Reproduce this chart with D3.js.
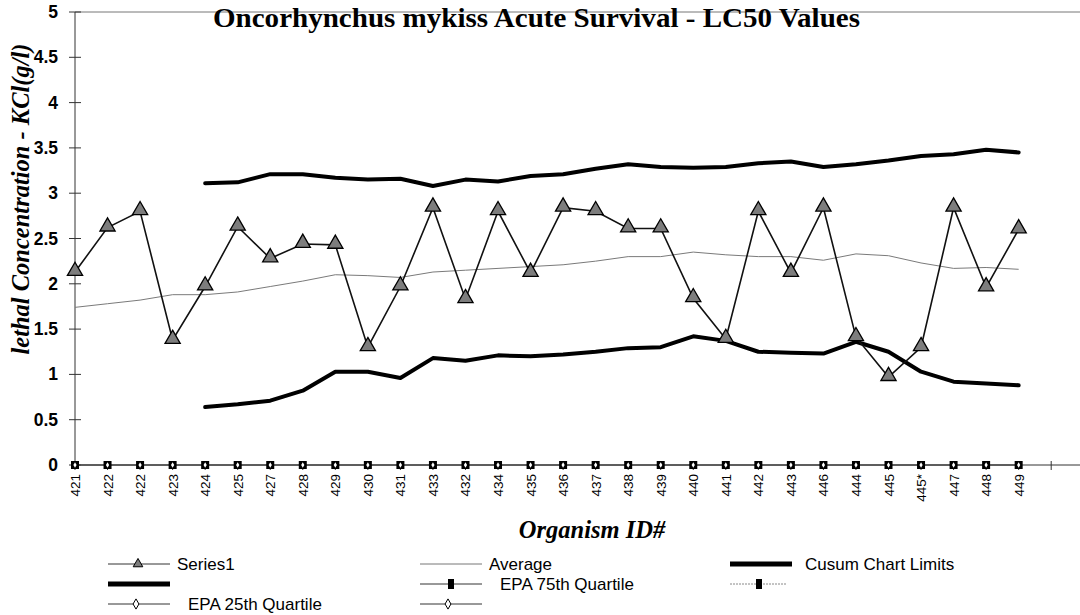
<!DOCTYPE html>
<html>
<head>
<meta charset="utf-8">
<script src="https://cdn.jsdelivr.net/npm/d3@7/dist/d3.min.js"></script>
<style>
  html, body { margin: 0; padding: 0; background: #fff; }
  svg { display: block; }
</style>
</head>
<body>
<div id="chart"></div>
<script>
// organism IDs along the x axis (order as printed)
const ids = ['421','422','422','423','424','425','427','428','429','430','431','433','432','434','435',
  '436','437','438','439','440','441','442','443','446','444','445','445*','447','448','449'];

// LC50 values (Series1)
const series1 = [2.13, 2.62, 2.80, 1.38, 1.97, 2.63, 2.28, 2.44, 2.43, 1.30, 1.97, 2.84, 1.83, 2.80, 2.12,
  2.84, 2.80, 2.61, 2.61, 1.84, 1.39, 2.80, 2.12, 2.84, 1.41, 0.97, 1.30, 2.84, 1.96, 2.60];

// running average
const average = [1.74, 1.78, 1.82, 1.88, 1.88, 1.91, 1.97, 2.03, 2.10, 2.09, 2.07, 2.13, 2.15, 2.17, 2.19,
  2.21, 2.25, 2.30, 2.30, 2.35, 2.32, 2.30, 2.30, 2.26, 2.33, 2.31, 2.23, 2.17, 2.18, 2.16];

// cusum limits (start at the 5th organism)
const cusumUpper = [null, null, null, null, 3.11, 3.12, 3.21, 3.21, 3.17, 3.15, 3.16, 3.08, 3.15, 3.13, 3.19,
  3.21, 3.27, 3.32, 3.29, 3.28, 3.29, 3.33, 3.35, 3.29, 3.32, 3.36, 3.41, 3.43, 3.48, 3.45];
const cusumLower = [null, null, null, null, 0.64, 0.67, 0.71, 0.82, 1.03, 1.03, 0.96, 1.18, 1.15, 1.21, 1.20,
  1.22, 1.25, 1.29, 1.30, 1.42, 1.37, 1.25, 1.24, 1.23, 1.36, 1.25, 1.03, 0.92, 0.90, 0.88];

// EPA quartile series (all plotted at zero)
const epa75 = ids.map(() => 0);
const epa25 = ids.map(() => 0);

const yTicks = [0, 0.5, 1, 1.5, 2, 2.5, 3, 3.5, 4, 4.5, 5];

const width = 1080, height = 615;
const svg = d3.select('#chart').append('svg')
  .attr('width', width).attr('height', height);

const x = d3.scalePoint()
  .domain(d3.range(ids.length + 1))
  .range([75, 75 + ids.length * 32.54]);
const y = d3.scaleLinear().domain([0, 5]).range([465, 12]);

// top border of plot area
svg.append('line')
  .attr('x1', 75).attr('x2', 1080).attr('y1', y(5)).attr('y2', y(5))
  .attr('stroke', '#777').attr('stroke-width', 1);

// y axis
svg.append('line')
  .attr('x1', 75).attr('x2', 75).attr('y1', y(5)).attr('y2', y(0))
  .attr('stroke', '#333').attr('stroke-width', 1);
svg.selectAll('.ytick').data(yTicks).enter().append('line')
  .attr('x1', 69).attr('x2', 81)
  .attr('y1', d => y(d)).attr('y2', d => y(d))
  .attr('stroke', '#333');
svg.selectAll('.ylab').data(yTicks).enter().append('text')
  .attr('x', 58).attr('y', d => y(d) + 6)
  .attr('text-anchor', 'end')
  .attr('font-family', 'Liberation Sans, Arial, sans-serif')
  .attr('font-weight', 'bold').attr('font-size', 17.5)
  .text(d => d);

// x axis
svg.append('line')
  .attr('x1', 75).attr('x2', 1080).attr('y1', y(0)).attr('y2', y(0))
  .attr('stroke', '#333').attr('stroke-width', 1);
svg.selectAll('.xtick').data(d3.range(ids.length + 1)).enter().append('line')
  .attr('x1', d => x(d)).attr('x2', d => x(d))
  .attr('y1', y(0) - 4).attr('y2', y(0) + 5)
  .attr('stroke', '#333');
svg.selectAll('.xlab').data(ids).enter().append('text')
  .attr('transform', (d, i) => `translate(${x(i) + 5},${y(0) + 9}) rotate(-90)`)
  .attr('text-anchor', 'end')
  .attr('font-family', 'Liberation Sans, Arial, sans-serif')
  .attr('font-size', 13.5)
  .text(d => d);

const line = d3.line()
  .defined(d => d != null)
  .x((d, i) => x(i))
  .y(d => y(d));

// EPA quartile lines at zero
svg.append('path').datum(epa75)
  .attr('d', line).attr('fill', 'none')
  .attr('stroke', '#999').attr('stroke-width', 1).attr('stroke-dasharray', '3,2');
svg.append('path').datum(epa25)
  .attr('d', line).attr('fill', 'none')
  .attr('stroke', '#222').attr('stroke-width', 1);

// Average
svg.append('path').datum(average)
  .attr('d', line).attr('fill', 'none')
  .attr('stroke', '#7a7a7a').attr('stroke-width', 1);

// Cusum limits
[cusumUpper, cusumLower].forEach(s => {
  svg.append('path').datum(s)
    .attr('d', line).attr('fill', 'none')
    .attr('stroke', '#000').attr('stroke-width', 4)
    .attr('stroke-linejoin', 'round').attr('stroke-linecap', 'round');
});

// Series1
svg.append('path').datum(series1)
  .attr('d', line).attr('fill', 'none')
  .attr('stroke', '#111').attr('stroke-width', 1.6);

const tri = d3.symbol().type(d3.symbolTriangle).size(100);
svg.selectAll('.tri').data(series1).enter().append('path')
  .attr('d', tri)
  .attr('transform', (d, i) => `translate(${x(i)},${y(d) - 1})`)
  .attr('fill', '#7d7d7d').attr('stroke', '#000').attr('stroke-width', 1.3);

// EPA markers at zero: black square with white diamond on top
svg.selectAll('.sq').data(epa75).enter().append('rect')
  .attr('x', (d, i) => x(i) - 4).attr('y', d => y(d) - 4)
  .attr('width', 8).attr('height', 8)
  .attr('fill', '#000');
const dia = d3.symbol().type(d3.symbolDiamond).size(9);
svg.selectAll('.dia').data(epa25).enter().append('path')
  .attr('d', dia)
  .attr('transform', (d, i) => `translate(${x(i)},${y(d)})`)
  .attr('fill', '#fff');

// title
svg.append('text')
  .attr('x', 213).attr('y', 27)
  .attr('font-family', 'Liberation Serif, Times New Roman, serif')
  .attr('font-weight', 'bold').attr('font-size', 27)
  .attr('textLength', 647).attr('lengthAdjust', 'spacingAndGlyphs')
  .text('Oncorhynchus mykiss Acute Survival - LC50 Values');

// y axis title
svg.append('text')
  .attr('transform', 'translate(29,199) rotate(-90)')
  .attr('text-anchor', 'middle')
  .attr('font-family', 'Liberation Serif, Times New Roman, serif')
  .attr('font-weight', 'bold').attr('font-style', 'italic').attr('font-size', 24.5)
  .text('lethal Concentration - KCl(g/l)');

// x axis title
svg.append('text')
  .attr('x', 592).attr('y', 538)
  .attr('text-anchor', 'middle')
  .attr('font-family', 'Liberation Serif, Times New Roman, serif')
  .attr('font-weight', 'bold').attr('font-style', 'italic').attr('font-size', 24.5)
  .text('Organism ID#');

// legend
const legendItems = [
  { label: 'Series1', col: 0, row: 0, kind: 'tri', tx: 177 },
  { label: 'Average', col: 1, row: 0, kind: 'avg', tx: 489 },
  { label: 'Cusum Chart Limits', col: 2, row: 0, kind: 'thick', tx: 805 },
  { label: '', col: 0, row: 1, kind: 'thick' },
  { label: 'EPA 75th Quartile', col: 1, row: 1, kind: 'sq', tx: 500 },
  { label: '', col: 2, row: 1, kind: 'sqdot' },
  { label: 'EPA 25th Quartile', col: 0, row: 2, kind: 'dia', tx: 188 },
  { label: '', col: 1, row: 2, kind: 'dia' }
];
const colX = [108, 420, 730];
const rowY = [564, 584, 604];
const lg = svg.append('g');
legendItems.forEach(it => {
  const x0 = colX[it.col], x1 = x0 + 62, ly = rowY[it.row], mx = (x0 + x1) / 2;
  if (it.kind === 'thick') {
    lg.append('line').attr('x1', x0).attr('x2', x1).attr('y1', ly).attr('y2', ly)
      .attr('stroke', '#000').attr('stroke-width', 5);
  } else if (it.kind === 'avg') {
    lg.append('line').attr('x1', x0).attr('x2', x1).attr('y1', ly).attr('y2', ly)
      .attr('stroke', '#777').attr('stroke-width', 1);
  } else if (it.kind === 'sqdot') {
    lg.append('line').attr('x1', x0).attr('x2', x1 - 6).attr('y1', ly).attr('y2', ly)
      .attr('stroke', '#888').attr('stroke-width', 1).attr('stroke-dasharray', '2,1');
    lg.append('rect').attr('x', mx - 5).attr('y', ly - 5).attr('width', 6).attr('height', 10).attr('fill', '#000');
  } else {
    lg.append('line').attr('x1', x0).attr('x2', x1).attr('y1', ly).attr('y2', ly)
      .attr('stroke', '#333').attr('stroke-width', 1);
    if (it.kind === 'tri') {
      lg.append('path').attr('d', d3.symbol().type(d3.symbolTriangle).size(40))
        .attr('transform', `translate(${mx - 1},${ly})`)
        .attr('fill', '#7d7d7d').attr('stroke', '#000');
    } else if (it.kind === 'sq') {
      lg.append('rect').attr('x', mx - 3).attr('y', ly - 5).attr('width', 6).attr('height', 10).attr('fill', '#000');
    } else if (it.kind === 'dia') {
      lg.append('path').attr('d', d3.symbol().type(d3.symbolDiamond).size(30))
        .attr('transform', `translate(${mx - 3},${ly})`)
        .attr('fill', '#fff').attr('stroke', '#000');
    }
  }
  if (it.label) {
    lg.append('text').attr('x', it.tx).attr('y', ly + 6)
      .attr('font-family', 'Liberation Sans, Arial, sans-serif')
      .attr('font-size', 17)
      .text(it.label);
  }
});
</script>
</body>
</html>
